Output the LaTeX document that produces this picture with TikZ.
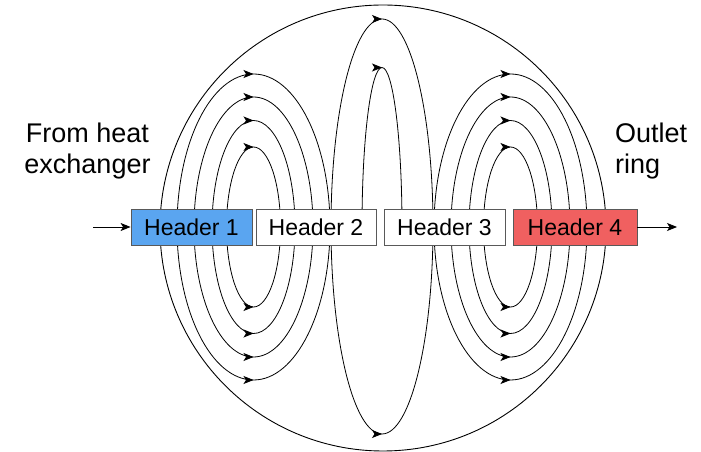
\documentclass[tikz,border=0pt]{standalone}
\usepackage{fontspec}
\setmainfont{Liberation Sans}
\usetikzlibrary{arrows.meta,decorations.markings}
\definecolor{hblue}{RGB}{90,165,240}
\definecolor{hred}{RGB}{240,96,96}
\begin{document}
\begin{tikzpicture}[x=1pt,y=1pt,
  flowarc/.style={line width=0.8pt, postaction={decorate},
    decoration={markings, mark=at position 0.5 with {\arrow{Stealth[length=10pt,width=8pt,inset=2.5pt]}}}},
  header/.style={draw=black!65, line width=0.8pt, minimum width=#1, minimum height=36pt,
    inner sep=0pt, font=\fontsize{23}{27}\selectfont},
  caption/.style={font=\fontsize{27}{31}\selectfont, inner sep=0pt},
  feed/.style={line width=0.9pt, -{Stealth[length=10pt,width=8pt,inset=2.5pt]}}]
\useasboundingbox (0,0) rectangle (701,452);
\fill[white] (0,0) rectangle (701,452);

% vessel outline
\draw[line width=0.9pt] (383,224) circle[radius=223];

% loop centres
\coordinate (L) at (253.5,225);
\coordinate (M) at (382,225.5);
\coordinate (R) at (510.5,225);

% header 1 -> header 2 and header 3 -> header 4 flow paths
\foreach \rx/\ry in {76.5/153, 59.5/130, 41.5/106.5, 27/80} {
  \draw[flowarc] (L) ++(-\rx,0) arc[start angle=180, end angle=0, x radius=\rx, y radius=\ry];
  \draw[flowarc] (L) ++(-\rx,0) arc[start angle=180, end angle=360, x radius=\rx, y radius=\ry];
  \draw[flowarc] (R) ++(-\rx,0) arc[start angle=180, end angle=0, x radius=\rx, y radius=\ry];
  \draw[flowarc] (R) ++(-\rx,0) arc[start angle=180, end angle=360, x radius=\rx, y radius=\ry];
}

% header 2 -> header 3 flow paths
\draw[flowarc] (M) ++(-51,0) arc[start angle=180, end angle=0, x radius=51, y radius=207.5];
\draw[flowarc] (M) ++(-51,0) arc[start angle=180, end angle=360, x radius=51, y radius=207.5];
\draw[flowarc] (M) ++(-20,0) arc[start angle=180, end angle=0, x radius=20, y radius=159];

% headers
\node[header=121pt, fill=hblue] (h1) at (191.5,225) {Header 1};
\node[header=120pt, fill=white] (h2) at (316,225) {Header 2};
\node[header=121pt, fill=white] (h3) at (444.5,225) {Header 3};
\node[header=124pt, fill=hred] (h4) at (575,225) {Header 4};

% inlet and outlet
\coordinate (inlet) at (93,225);
\coordinate (outlet) at (677,225);
\draw[feed] (inlet) -- (h1.west);
\draw[feed] (h4.east) -- (outlet);

% captions
\node[caption, align=center] (src) at (87.5,300.5) {From heat\\exchanger};
\node[caption, align=left, anchor=west] (dst) at (615,300.5) {Outlet\\ring};
\end{tikzpicture}
\end{document}
